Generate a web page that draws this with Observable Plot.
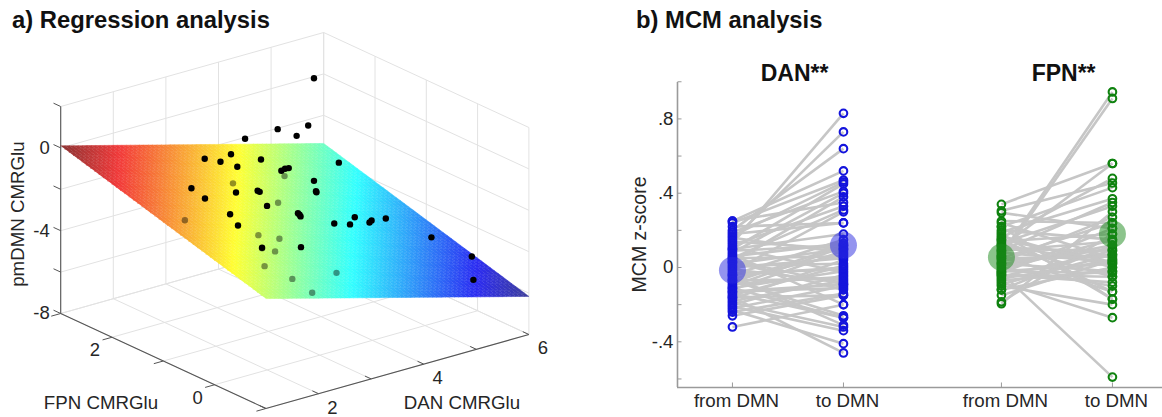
<!DOCTYPE html>
<html>
<head>
<meta charset="utf-8">
<script src="https://cdn.jsdelivr.net/npm/d3@7"></script>
<script src="https://cdn.jsdelivr.net/npm/@observablehq/plot@0.6"></script>
<style>
html,body{margin:0;padding:0;background:#fff;overflow:hidden}
#page{position:relative;width:1162px;height:417px;font-family:"Liberation Sans",Arial,sans-serif}
.ttl{position:absolute;top:8px;font-weight:bold;font-size:23.8px;color:#111;line-height:24px;white-space:nowrap}
#a,#b{position:absolute;top:0}
#a{left:0}#b{left:600px}
svg{overflow:visible}
</style>
</head>
<body>
<div id="page">
  <div id="a"></div>
  <div id="b"></div>
  <div class="ttl" style="left:12px">a) Regression analysis</div>
  <div class="ttl" style="left:636px">b) MCM analysis</div>
</div>
<script>
// ---------- panel a: 3-D regression ----------
const danTicks = [1, 2, 3, 4, 5, 6];
const fpnTicks = [-1, 0, 1, 2, 3];
const zTicks = [-8, -6, -4, -2, 0, 2];
const danLabels = [2, 4, 6];
const fpnLabels = [0, 2];
const zLabels = [-8, -4, 0];
// fitted plane heights at the corners of the floor
const planeAtLowDanLowFpn = -2.69;
const planeAtHighDanLowFpn = -6.16;
const planeAtLowDanHighFpn = 0.10;
const planeAtHighDanHighFpn = -3.36;

const aboveDan = [4.84,4.73,4.15,4.51,3.53,3.75,3.25,3.55,3.87,4.32,5.80,4.22,4.29,4.36,4.84,2.51,2.28,2.87,3.28,3.32,4.39,4.40,3.46,3.56,3.59,3.61,2.27,2.42,4.64,4.25,4.55,4.92,4.96,5.23,5.61,5.89,5.92,3.13,2.39];
const aboveFpn = [2,2,2,2,2,2.5,2.5,2.5,2.5,2.5,2.5,2,2,2,2,2,1.5,1.5,1.5,1.5,1.5,1.5,1.5,1,1,1,1,1,1,1,1,1,1,1,0.5,0,0,0.5,0.5];
const abovePm = [1.77,-0.44,-0.20,-0.78,-0.22,-1.70,-1.56,-1.92,-2.39,-2.36,-3.57,-2.26,-2.21,-2.23,-3.19,-1.88,-1.64,-1.77,-1.98,-2.06,-2.80,-2.85,-2.84,-2.69,-2.79,-2.88,-1.82,-2.47,-3.66,-3.68,-3.94,-4.11,-4.04,-4.14,-4.75,-5.30,-6.45,-3.45,-2.95];
const belowDan = [3.30,4.28,3.67,1.41,2.32,2.72,2.39,2.15,1.95,1.99,2.83,1.88];
const belowFpn = [2,2,1.5,1,0.5,0.5,0.5,0,0,-0.5,-0.5,-1];
const belowPm = [-2.21,-2.56,-2.84,-1.49,-2.29,-2.75,-2.97,-2.38,-2.95,-3.02,-3.33,-3.04];

const jetDomain = [-6.16,-5.45,-3.81,-2.25,-0.68,0.10];
const jetRange = ["#3f3f98","#2c2cf2","#33ffff","#ffff33","#f23a3a","#8c3434"];

const danMin = 1, danMax = 6, fpnMin = -1, fpnMax = 3, zMin = -8, zMax = 2;
const px = (d, f) => 265.4 + 52.6 * (d - danMin) - 51.3 * (f - fpnMin);
const py = (d, f, z) => 408 - 14.8 * (d - danMin) - 23.75 * (f - fpnMin) - 20.7 * (z - zMin);
const pt = (d, f, z) => ({x: px(d, f), y: py(d, f, z)});
const seg = (a, b) => ({x1: a.x, y1: a.y, x2: b.x, y2: b.y});

// grid
const grid = [];
for (const d of danTicks) {
  grid.push(seg(pt(d, fpnMin, zMin), pt(d, fpnMax, zMin)));
  grid.push(seg(pt(d, fpnMax, zMin), pt(d, fpnMax, zMax)));
}
for (const f of fpnTicks) {
  grid.push(seg(pt(danMin, f, zMin), pt(danMax, f, zMin)));
  grid.push(seg(pt(danMax, f, zMin), pt(danMax, f, zMax)));
}
for (const z of zTicks) {
  grid.push(seg(pt(danMin, fpnMax, z), pt(danMax, fpnMax, z)));
  grid.push(seg(pt(danMax, fpnMax, z), pt(danMax, fpnMin, z)));
}
// axes & ticks
const axes3d = [
  seg(pt(danMin, fpnMax, zMin), pt(danMin, fpnMax, zMax)),
  seg(pt(danMin, fpnMax, zMin), pt(danMin, fpnMin, zMin)),
  seg(pt(danMin, fpnMin, zMin), pt(danMax, fpnMin, zMin))
];
const ticks3d = [
  ...zTicks.map(z => seg(pt(danMin, fpnMax, z), pt(danMin, fpnMax + 0.14, z))),
  ...fpnTicks.map(f => seg(pt(danMin, f, zMin), pt(danMin - 0.18, f, zMin))),
  ...danTicks.map(d => seg(pt(d, fpnMin, zMin), pt(d, fpnMin + 0.12, zMin)))
];
// plane mesh
const mesh = [];
const nD = 60, nF = 48;
const planeZ = (u, v) =>
  planeAtLowDanLowFpn * (1 - u) * (1 - v) + planeAtHighDanLowFpn * u * (1 - v) +
  planeAtLowDanHighFpn * (1 - u) * v + planeAtHighDanHighFpn * u * v;
for (let i = 0; i < nD; i++) for (let j = 0; j < nF; j++) {
  const c = [[i, j], [i + 1, j], [i + 1, j + 1], [i, j + 1]];
  const val = planeZ((i + .5) / nD, (j + .5) / nF);
  for (const [a, b] of c) {
    const u = a / nD, v = b / nF;
    const d = danMin + u * (danMax - danMin), f = fpnMin + v * (fpnMax - fpnMin);
    mesh.push({id: i * 1000 + j, x: px(d, f), y: py(d, f, planeZ(u, v)), val});
  }
}
const above = aboveDan.map((d, i) => pt(d, aboveFpn[i], abovePm[i]));
const below = belowDan.map((d, i) => pt(d, belowFpn[i], belowPm[i]));

const txtA = {fontFamily: "Liberation Sans, Arial, sans-serif", fill: "#262626"};
const plotA = Plot.plot({
  width: 600, height: 417,
  marginTop: 0, marginBottom: 0, marginLeft: 0, marginRight: 0,
  x: {domain: [0, 600], range: [0, 600], axis: null},
  y: {domain: [0, 417], range: [0, 417], axis: null},
  color: {type: "linear", domain: jetDomain, range: jetRange, interpolate: "rgb"},
  marks: [
    Plot.link(grid, {x1: "x1", y1: "y1", x2: "x2", y2: "y2", stroke: "#e2e2e2", strokeWidth: 1}),
    Plot.link(axes3d, {x1: "x1", y1: "y1", x2: "x2", y2: "y2", stroke: "#555", strokeWidth: 1.1}),
    Plot.link(ticks3d, {x1: "x1", y1: "y1", x2: "x2", y2: "y2", stroke: "#555", strokeWidth: 1}),
    Plot.line(mesh, {x: "x", y: "y", z: "id", fill: "val", stroke: "val", strokeWidth: 0.5}),
    Plot.dot(below, {x: "x", y: "y", r: 3.2, fill: "#000", fillOpacity: 0.42}),
    Plot.dot(above, {x: "x", y: "y", r: 3.2, fill: "#000"}),
    Plot.text(zLabels, {x: () => px(danMin, fpnMax), y: z => py(danMin, fpnMax, z), text: d => String(d), dx: -11, dy: 0, textAnchor: "end", fontSize: 18.5, ...txtA}),
    Plot.text(fpnLabels, {x: f => px(danMin, f), y: f => py(danMin, f, zMin), text: d => String(d), dx: -17, dy: 13, fontSize: 18.5, ...txtA}),
    Plot.text(danLabels, {x: d => px(d, fpnMin), y: d => py(d, fpnMin, zMin), text: d => String(d), dx: 14, dy: 14, fontSize: 18.5, ...txtA}),
    Plot.text(["FPN CMRGlu"], {x: () => px(danMin, 0.5), y: () => py(danMin, 0.5, zMin), text: d => d, dx: -88, dy: 30, fontSize: 18.7, ...txtA}),
    Plot.text(["DAN CMRGlu"], {x: () => px(4.5, fpnMin), y: () => py(4.5, fpnMin, zMin), text: d => d, dx: 12, dy: 46, fontSize: 18.7, ...txtA}),
    Plot.text(["pmDMN CMRGlu"], {x: () => px(danMin, fpnMax), y: () => py(danMin, fpnMax, -3.2), text: d => d, rotate: -90, dx: -43, fontSize: 18.7, ...txtA})
  ]
});
document.getElementById("a").appendChild(plotA);

// ---------- panel b: MCM paired values ----------
const danFrom = [.13,.15,.20,.25,.24,.17,.10,.19,.08,.03,.25,.12,.05,-.02,.22,.18,.10,-.04,.06,-.08,.02,.14,-.10,-.12,-.06,.00,-.17,.01,-.15,-.03,.11,-.20,-.09,-.18,-.01,.04,-.22,-.13,-.24,-.16,.07,-.26,-.07,-.11,-.14,-.05,-.19,-.21,-.32,-.23,-.16,.09,.16,-.04,-.11,.05,-.07,-.13,.03];
const danTo = [.83,.73,.64,.52,.47,.46,.45,.41,.40,.38,.35,.33,.31,.30,.24,.24,.18,.15,.13,.12,.10,.10,.11,.09,.07,.05,.04,.02,.01,-.01,-.03,-.04,-.05,-.07,-.08,-.09,-.10,-.11,-.14,-.15,-.20,-.15,-.26,-.27,-.27,-.31,-.32,-.34,-.20,-.41,-.46,.12,.08,.00,-.02,.06,-.06,-.09,-.12];
const fpnFrom = [.07,.06,.11,.34,.16,.305,.22,.19,.09,.13,-.195,.03,.25,.295,.05,-.03,-.185,.14,-.01,.20,.01,-.12,.10,-.05,-.09,.04,.08,-.02,-.15,.17,.02,-.07,.12,-.04,.00,.06,.15,.22,.18,-.10,-.08,-.03,-.12,.24,.02,.09,-.06,.12,-.02,.05,.15,-.04];
const fpnTo = [.945,.91,.56,.56,.48,.455,.43,.37,.35,.33,.30,.27,.24,.21,.24,.21,.18,.18,.15,.15,.12,.12,.09,.09,.07,.07,.03,.02,.04,.00,-.02,-.02,-.05,-.05,-.10,-.13,-.13,-.17,-.17,-.20,-.27,-.59,.00,.05,.10,.14,.04,.02,-.03,.06,.03,-.08];
const meanGroups = ["DAN", "DAN", "FPN", "FPN"];
const meanSlots = ["from DMN", "to DMN", "from DMN", "to DMN"];
const meanValues = [-.015, .12, .055, .18];
const yTickValues = [-.6, -.4, -.2, 0, .2, .4, .6, .8, 1];
const yTickLabels = new Map([[-.4, "-.4"], [0, "0"], [.4, ".4"], [.8, ".8"]]);
const groupNames = ["DAN", "FPN"];
const groupTitles = ["DAN**", "FPN**"];
const blue = "#1414dc", green = "#0f820f";

const groupStart = {DAN: 0, FPN: 2.423};
const slotOffset = {"from DMN": 0, "to DMN": 1};
const xPos = (g, s) => groupStart[g] + slotOffset[s];
const pairs = [
  ...danFrom.map((v, i) => ({g: "DAN", from: v, to: danTo[i]})),
  ...fpnFrom.map((v, i) => ({g: "FPN", from: v, to: fpnTo[i]}))
];
const circles = pairs.flatMap(p => [
  {g: p.g, s: "from DMN", v: p.from},
  {g: p.g, s: "to DMN", v: p.to}
]);
const means = meanValues.map((v, i) => ({g: meanGroups[i], s: meanSlots[i], v}));
const xTicks = groupNames.flatMap(g => ["from DMN", "to DMN"].map(s => ({g, s, x: xPos(g, s)})));
const axisGray = "#9a9a9a";

const plotB = Plot.plot({
  width: 562, height: 417,
  marginTop: 82, marginBottom: 30, marginLeft: 77, marginRight: 0,
  style: {fontFamily: "Liberation Sans, Arial, sans-serif", background: "transparent"},
  x: {domain: [-.495, 3.874], axis: null},
  y: {domain: [-.646, .996], axis: null},
  marks: [
    Plot.ruleY([-.646], {stroke: axisGray, strokeWidth: 1.6}),
    Plot.ruleX([-.495], {stroke: axisGray, strokeWidth: 1.6}),
    Plot.link(yTickValues, {x1: () => -.495, x2: () => -.495 + 4 / 111, y1: d => d, y2: d => d, stroke: axisGray, strokeWidth: 1}),
    Plot.link(xTicks, {x1: "x", x2: "x", y1: () => -.646, y2: () => -.646 + 5 / 185.7, stroke: axisGray, strokeWidth: 1}),
    Plot.text(xTicks, {x: "x", y: () => -.646, text: "s", dx: 4, dy: 14, fontSize: 18.7, fill: "#262626"}),
    Plot.text([...yTickLabels.keys()], {x: () => -.495, y: d => d, text: d => yTickLabels.get(d), dx: -4, textAnchor: "end", fontSize: 18.7, fill: "#262626"}),
    Plot.text(["MCM z-score"], {x: () => -.495, y: () => .178, text: d => d, rotate: -90, dx: -38, fontSize: 19.5, fill: "#262626"}),
    Plot.link(pairs, {x1: d => xPos(d.g, "from DMN"), x2: d => xPos(d.g, "to DMN"), y1: "from", y2: "to", stroke: "#c6c6c6", strokeWidth: 2.6}),
    Plot.dot(circles.filter(d => d.g === "DAN"), {x: d => xPos(d.g, d.s), y: "v", r: 3.8, stroke: blue, strokeWidth: 2.1, fill: "none"}),
    Plot.dot(circles.filter(d => d.g === "FPN"), {x: d => xPos(d.g, d.s), y: "v", r: 3.8, stroke: green, strokeWidth: 2.1, fill: "none"}),
    Plot.dot(means.filter(d => d.g === "DAN"), {x: d => xPos(d.g, d.s), y: "v", r: 13.5, fill: "#2a2ae0", fillOpacity: .5}),
    Plot.dot(means.filter(d => d.g === "FPN"), {x: d => xPos(d.g, d.s), y: "v", r: 13.5, fill: "#1a8a1a", fillOpacity: .5}),
    Plot.text(groupNames, {x: g => groupStart[g] + .56, y: () => 1.045, text: (g, i) => groupTitles[i], fontSize: 23, fontWeight: "bold", fill: "#111"})
  ]
});
document.getElementById("b").appendChild(plotB);
</script>
</body>
</html>
